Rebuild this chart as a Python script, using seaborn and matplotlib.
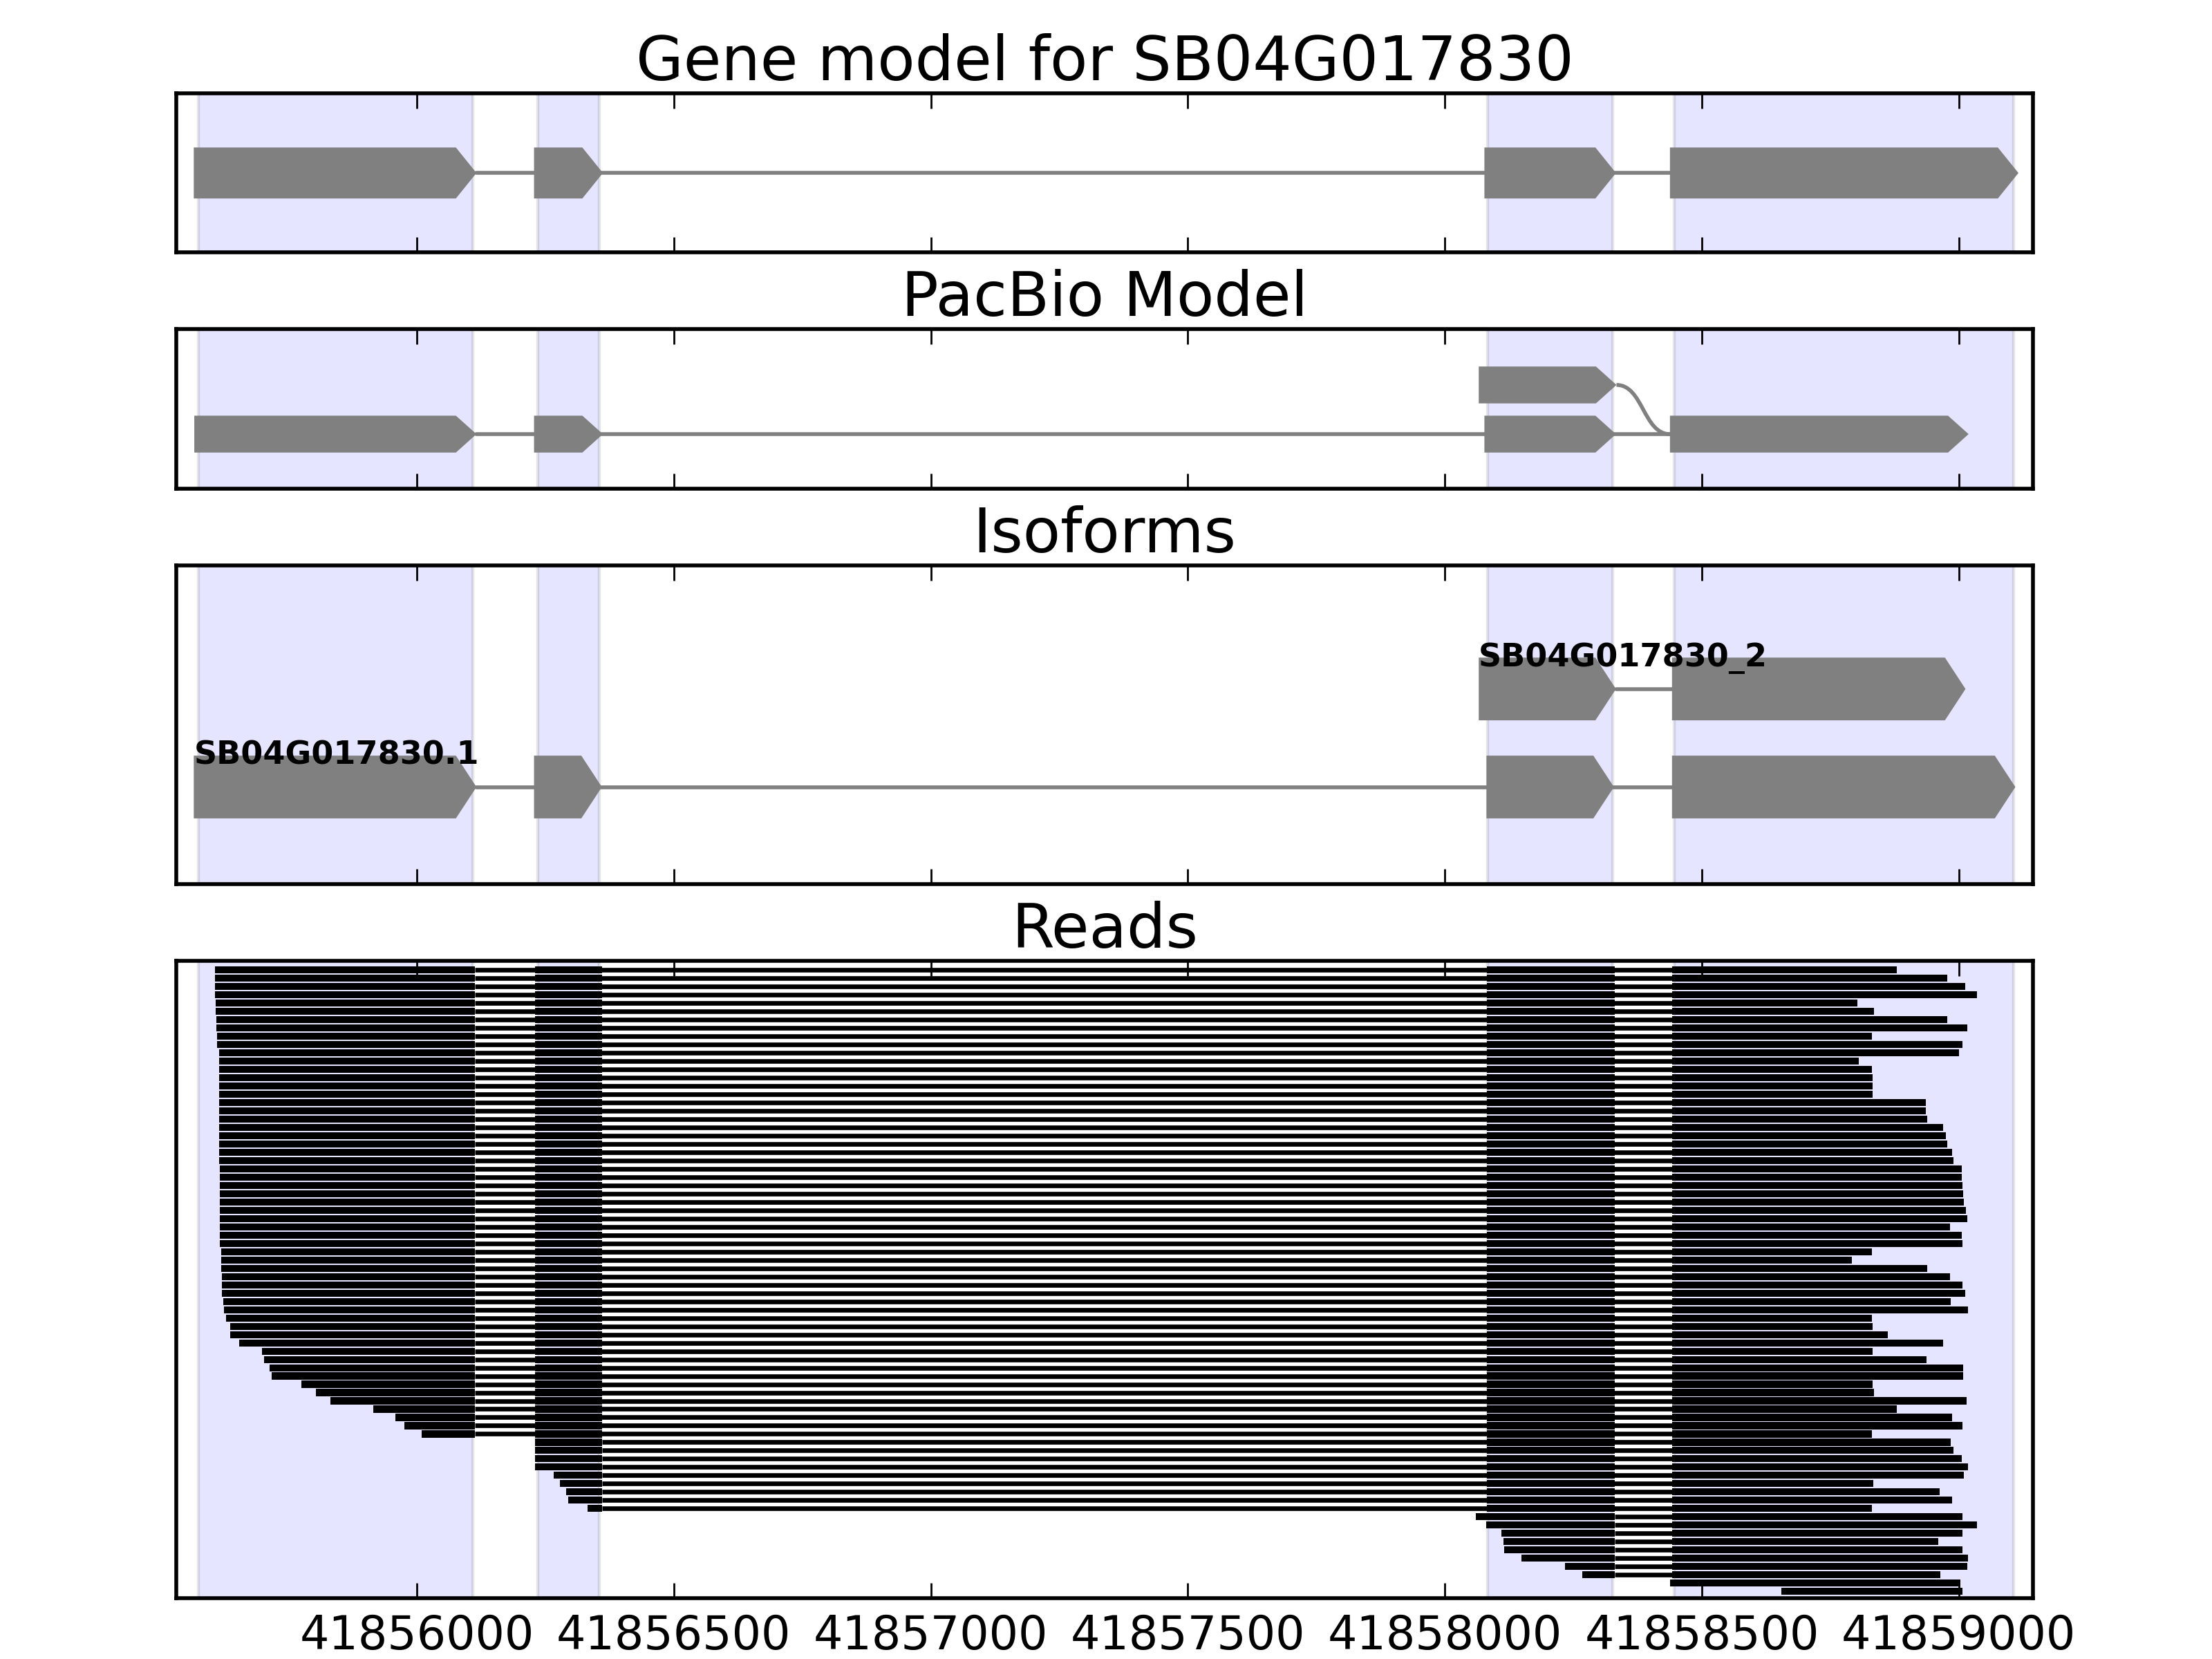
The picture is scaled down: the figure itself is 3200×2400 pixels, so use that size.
import matplotlib
matplotlib.use("Agg")
import matplotlib.pyplot as plt
from matplotlib.path import Path
from matplotlib.patches import PathPatch
from matplotlib.ticker import MultipleLocator
import seaborn as sns


# ---------------------------------------------------
# Data
# ---------------------------------------------------

GENE_ID = "SB04G017830"
X_LIM = (41855532, 41859144)

# exon regions shaded in every panel
span_starts = [41855575, 41856235, 41858083, 41858446]
span_ends = [41856109, 41856355, 41858327, 41859106]

# gene model (one transcript)
gene_exon_starts = [41855566, 41856228, 41858077, 41858438]
gene_exon_ends = [41856116, 41856362, 41858333, 41859116]

# PacBio model: main path + alternative exon 3 joined to exon 4
pacbio_exon_starts = [41855567, 41856228, 41858077, 41858438]
pacbio_exon_ends = [41856116, 41856362, 41858333, 41859019]
pacbio_alt_start = 41858066
pacbio_alt_end = 41858334

# isoforms
iso_names = ["SB04G017830.1", "SB04G017830_2"]
iso1_starts = [41855566, 41856228, 41858081, 41858442]
iso1_ends = [41856116, 41856360, 41858329, 41859110]
iso2_starts = [41858066, 41858442]
iso2_ends = [41858333, 41859013]

# exon junctions used by the reads
read_exon_starts = [41855560, 41856230, 41858082, 41858442]
read_exon_ends = [41856113, 41856360, 41858331, 41859140]

read_starts = [
    41855607, 41855607, 41855607, 41855607, 41855608, 41855609, 41855610, 41855610,
    41855611, 41855611, 41855615, 41855616, 41855616, 41855616, 41855616, 41855616,
    41855616, 41855616, 41855616, 41855616, 41855616, 41855616, 41855616, 41855616,
    41855617, 41855617, 41855617, 41855617, 41855617, 41855617, 41855617, 41855617,
    41855617, 41855617, 41855620, 41855620, 41855620, 41855621, 41855621, 41855621,
    41855623, 41855625, 41855629, 41855637, 41855637, 41855654, 41855699, 41855703,
    41855713, 41855717, 41855776, 41855803, 41855832, 41855915, 41855958, 41855976,
    41856010, 41856230, 41856230, 41856230, 41856230, 41856266, 41856278, 41856290,
    41856294, 41856332, 41858060, 41858081, 41858110, 41858114, 41858116, 41858149,
    41858234, 41858267, 41858438, 41858655,
]

read_ends = [
    41858879, 41858977, 41859013, 41859036, 41858803, 41858835, 41858977, 41859017,
    41858831, 41859007, 41859000, 41858806, 41858831, 41858832, 41858832, 41858832,
    41858936, 41858936, 41858939, 41858970, 41858975, 41858977, 41858987, 41858989,
    41859006, 41859006, 41859007, 41859009, 41859010, 41859014, 41859017, 41858983,
    41859006, 41859007, 41858831, 41858792, 41858939, 41858983, 41859007, 41859013,
    41858984, 41859018, 41858831, 41858832, 41858862, 41858970, 41858832, 41858937,
    41859009, 41859009, 41858832, 41858835, 41859015, 41858879, 41858987, 41859007,
    41858831, 41858984, 41858989, 41859006, 41859018, 41859010, 41858834, 41858963,
    41858987, 41858831, 41859007, 41859036, 41859007, 41858960, 41859007, 41859018,
    41859017, 41858964, 41859003, 41859007,
]

EXON_COLOR = "#808080"
HEAD_LEN = 40


# ---------------------------------------------------
# Style
# ---------------------------------------------------

sns.set_theme(
    style="white",
    rc={
        "axes.edgecolor": "black",
        "axes.linewidth": 1.0,
        "axes.labelcolor": "black",
        "text.color": "black",
        "xtick.direction": "in",
        "xtick.bottom": True,
        "xtick.top": True,
        "xtick.major.size": 4,
        "xtick.major.width": 0.5,
        "xtick.major.pad": 4,
        "xtick.labelsize": 12,
        "xtick.color": "black",
        "ytick.left": False,
        "axes.titlesize": 16,
        "axes.titlepad": 1.5,
    },
)
plt.rcParams["font.family"] = ["DejaVu Sans"]


def shade_exons(ax):
    for a, b in zip(span_starts, span_ends):
        ax.axvspan(a, b, facecolor="blue", edgecolor="black", alpha=0.1, lw=0.8, zorder=0)


def draw_exon(ax, start, end, y, h):
    head = min(HEAD_LEN, end - start)
    xs = [start, end - head, end, end - head, start]
    ys = [y - h / 2, y - h / 2, y, y + h / 2, y + h / 2]
    ax.fill(xs, ys, color=EXON_COLOR, lw=0, zorder=3)


def draw_transcript(ax, starts, ends, y, h):
    ax.plot([ends[0], starts[-1]], [y, y], color=EXON_COLOR, lw=1.0, zorder=2)
    for s, e in zip(starts, ends):
        draw_exon(ax, s, e, y, h)


def setup_axis(ax, title, show_labels=False):
    ax.set_xlim(*X_LIM)
    ax.set_yticks([])
    ax.xaxis.set_major_locator(MultipleLocator(500))
    ax.ticklabel_format(axis="x", useOffset=False, style="plain")
    ax.tick_params(axis="x", labelbottom=show_labels)
    ax.set_title(title, color="black")
    for spine in ax.spines.values():
        spine.set_color("black")
        spine.set_linewidth(1.0)


fig = plt.figure(figsize=(8, 6), dpi=400)
gs = fig.add_gridspec(
    4, 1,
    height_ratios=[1, 1, 2, 4],
    left=0.0797, right=0.919, top=0.94375, bottom=0.0367,
    hspace=0.2408,
)

# ---------------------------------------------------
# 1. Gene model
# ---------------------------------------------------
ax1 = fig.add_subplot(gs[0])
shade_exons(ax1)
draw_transcript(ax1, gene_exon_starts, gene_exon_ends, 0, 0.64)
ax1.set_ylim(-1, 1)
setup_axis(ax1, f"Gene model for {GENE_ID}")

# ---------------------------------------------------
# 2. PacBio model
# ---------------------------------------------------
ax2 = fig.add_subplot(gs[1])
shade_exons(ax2)
draw_transcript(ax2, pacbio_exon_starts, pacbio_exon_ends, 0, 0.75)
draw_exon(ax2, pacbio_alt_start, pacbio_alt_end, 1, 0.75)
x0, x1 = pacbio_alt_end, pacbio_exon_starts[-1]
xm = (x0 + x1) / 2
curve = Path(
    [(x0, 1), (xm, 1), (xm, 0), (x1, 0)],
    [Path.MOVETO, Path.CURVE4, Path.CURVE4, Path.CURVE4],
)
ax2.add_patch(PathPatch(curve, facecolor="none", edgecolor=EXON_COLOR, lw=1.0, zorder=2))
ax2.set_ylim(-1.11, 2.13)
setup_axis(ax2, "PacBio Model")

# ---------------------------------------------------
# 3. Isoforms
# ---------------------------------------------------
ax3 = fig.add_subplot(gs[2])
shade_exons(ax3)
for row, (starts, ends) in enumerate([(iso1_starts, iso1_ends), (iso2_starts, iso2_ends)]):
    draw_transcript(ax3, starts, ends, row, 0.64)
    ax3.text(
        starts[0], row + 0.23, iso_names[row], color="black",
        fontsize=8.3, fontweight="bold", va="baseline", ha="left", zorder=4
    )
ax3.set_ylim(-0.99, 2.26)
setup_axis(ax3, "Isoforms")

# ---------------------------------------------------
# 4. Reads
# ---------------------------------------------------
ax4 = fig.add_subplot(gs[3])
shade_exons(ax4)
for i, (s, e) in enumerate(zip(read_starts, read_ends)):
    first = next(k for k, b in enumerate(read_exon_ends) if b > s)
    last = max(k for k, a in enumerate(read_exon_starts) if a < e)
    blocks = []
    for k in range(first, last + 1):
        lo = s if k == first else read_exon_starts[k]
        hi = e if k == last else read_exon_ends[k]
        blocks.append((lo, hi - lo))
    if last > first:
        ax4.hlines(i, blocks[0][0] + blocks[0][1], blocks[-1][0],
                   color="black", lw=1.2, zorder=2)
    ax4.broken_barh(blocks, (i - 0.42, 0.84), facecolors="black",
                    edgecolor="none", zorder=3)
ax4.set_ylim(75.8, -1.08)
setup_axis(ax4, "Reads", show_labels=True)

plt.savefig("out.png", dpi=400)
